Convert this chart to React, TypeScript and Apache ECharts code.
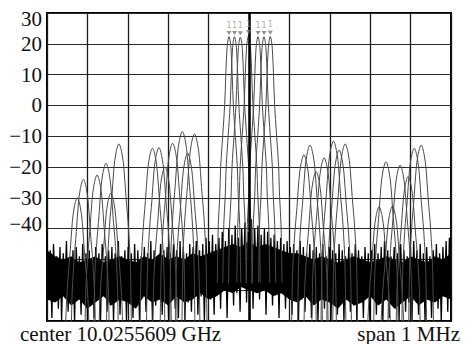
import React, { useEffect, useRef } from "react";
import * as echarts from "echarts";

// Frequency offsets in kHz from the centre (span 1 MHz), levels in dBm
const centerPeaksKHz = [-49.5, -35.9, -21.5, -1.2, 22.3, 37.1, 52.7];
const centerPeaksDb = [22.3, 22.3, 22.2, 22.6, 22.3, 22.3, 22.4];
const markerLabels = ["1", "1", "1", "1", "1", "1", "1"];

const sidePeaksKHz = [
  -425, -410, -376, -354, -342, -322,
  -239, -223, -208, -189, -165, -152, -135,
  136, 151, 166, 186, 209, 223, 238,
  322, 339, 355, 374, 394, 409, 426,
];
const sidePeaksDb = [
  -30, -24, -22.6, -18.8, -28.5, -12.5,
  -13.9, -13.7, -19.9, -12.3, -8.5, -15.5, -9.3,
  -16.1, -12.9, -21.5, -17, -11.6, -14.5, -12.5,
  -32.9, -18.3, -32.7, -19.4, -23.1, -13.9, -12.9,
];

// lobe shapes: [offset kHz, level relative to peak dB]
const centerLobeShape = [
  [-29, -80], [-26.5, -61], [-23, -52], [-20.5, -42], [-15.5, -32], [-10.7, -22], [-5, -4], [0, 0],
  [5, -4], [10.7, -22], [15.5, -32], [20.5, -42], [23, -52], [26.5, -61], [29, -80],
];
const sideLobeShape = [
  [-32, -75], [-28.5, -40], [-23.5, -27], [-17.3, -17], [-12.4, -8], [-7.4, -3], [0, 0],
  [7.4, -3], [12.4, -8], [17.3, -17], [23.5, -27], [28.5, -40], [32, -75],
];

// noise floor trace, sampled evenly across the span
const noiseTrace = [
  -41, -62, -47, -69, -45, -58, -49, -66, -46, -70, -48, -60, -44, -67, -50, -63, -47, -70, -46, -59, -49, -68, -45, -64, -48, -70, -47, -61, -50, -69, -46, -62, -48, -70, -45, -58, -49, -67, -47, -65, -46, -70, -48, -60, -44, -68, -49, -63, -47, -70,
  -46, -61, -48, -69, -45, -64, -47, -70, -49, -59, -46, -67, -48, -62, -44, -70, -47, -65, -49, -60, -45, -68, -47, -63, -46, -70, -48, -58, -45, -66, -47, -69, -44, -61, -46, -70, -48, -64, -45, -67, -46, -59, -44, -68, -47, -62, -45, -70, -43, -60,
  -44, -63, -42, -68, -45, -58, -43, -66, -41, -60, -44, -69, -40, -57, -42, -65, -39, -61, -43, -67, -40, -56, -38, -64, -41, -59, -37, -66, -40, -57, -39, -63, -42, -60, -40, -68, -41, -58, -43, -65, -42, -61, -44, -69, -43, -59, -45, -66, -44, -62,
  -46, -68, -45, -60, -47, -70, -44, -63, -46, -67, -48, -59, -45, -69, -47, -62, -46, -70, -48, -61, -45, -66, -49, -64, -46, -70, -47, -59, -48, -68, -45, -63, -47, -70, -49, -60, -46, -67, -48, -65, -45, -70, -47, -61, -49, -69, -46, -62, -48, -70,
  -47, -60, -45, -68, -48, -63, -46, -70, -44, -61, -47, -69, -49, -58, -46, -66, -48, -70, -45, -62, -47, -67, -49, -64, -46, -70, -44, -59, -47, -68, -45, -63, -48, -70, -46, -61, -49, -69, -47, -60, -45, -66, -48, -70, -46, -62, -44, -67, -43, -64,
];

// dense core of the noise floor (every 20 kHz): upper and lower edge in dB
const noiseCoreTop = [
  -47, -49, -50, -49, -51, -50, -49, -51, -50, -49, -50, -51, -49, -50, -48, -50, -49, -50, -48, -49,
  -48, -47, -46, -45, -46, -44, -46, -45, -46, -47, -48, -48, -49, -50, -49, -50, -51, -50, -49, -50,
  -51, -50, -49, -50, -51, -49, -50, -51, -49, -50, -48,
];
const noiseCoreBottom = [
  -63, -64, -62, -65, -63, -66, -64, -62, -65, -63, -64, -66, -62, -64, -63, -65, -62, -64, -63, -61,
  -63, -62, -60, -61, -59, -60, -61, -60, -62, -61, -63, -64, -62, -65, -63, -64, -66, -63, -65, -64,
  -62, -65, -63, -66, -64, -62, -65, -63, -64, -62, -63,
];

const yTicks = [30, 20, 10, 0, -10, -20, -30, -40];
const centerText = "center 10.0255609 GHz";
const spanText = "span 1 MHz";

const FONT = '"Liberation Serif", "Times New Roman", serif';

export default function App() {
  const ref = useRef<HTMLDivElement>(null);
  useEffect(() => {
    if (!ref.current) return;
    const chart = echarts.init(ref.current, undefined, { renderer: "svg" });

    const noiseData = noiseTrace.map((v, i) => [-500 + (i * 1000) / (noiseTrace.length - 1), v]);
    const coreX = (i: number) => -500 + (i * 1000) / (noiseCoreTop.length - 1);

    const lobeSeries: any[] = [];
    const addLobe = (c: number, p: number, shape: number[][]) => {
      lobeSeries.push({
        type: "line",
        data: shape.map(([dx, dy]) => [c + dx, p + dy]),
        smooth: 0.35,
        symbol: "none",
        clip: true,
        lineStyle: { color: "#4a4a4a", width: 1 },
        z: 3,
        silent: true,
      });
    };
    sidePeaksKHz.forEach((c, i) => addLobe(c, sidePeaksDb[i], sideLobeShape));
    centerPeaksKHz.forEach((c, i) => addLobe(c, centerPeaksDb[i], centerLobeShape));

    const option: any = {
      animation: false,
      backgroundColor: "#fff",
      grid: {
        left: 47, right: 22, top: 13, bottom: 23,
        show: true, borderColor: "#000", borderWidth: 2, backgroundColor: "transparent",
      },
      xAxis: {
        type: "value", min: -500, max: 500, interval: 100,
        axisLabel: { show: false }, axisTick: { show: false }, axisLine: { show: false },
        splitLine: { show: true, lineStyle: { color: "#1a1a1a", width: 1.3 } },
      },
      yAxis: {
        type: "value", min: -70, max: 30, interval: 10,
        axisLine: { show: false }, axisTick: { show: false },
        splitLine: { show: true, lineStyle: { color: "#2a2a2a", width: 1.2 } },
        axisLabel: {
          margin: 5,
          color: "#111",
          fontFamily: FONT,
          fontSize: 21,
          formatter: (v: number) => {
            if (!yTicks.includes(v)) return "";
            const s = String(v).replace("-", "\u2212");
            if (v === 30) return "{t|" + s + "}";
            if (v === -40) return "{b|" + s + "}";
            return s;
          },
          rich: {
            t: { fontFamily: FONT, fontSize: 21, color: "#111", padding: [12, 0, 0, 0] },
            b: { fontFamily: FONT, fontSize: 21, color: "#111", padding: [0, 0, 10, 0] },
          },
        },
      },
      graphic: [
        {
          type: "text", left: 20, top: 323,
          style: { text: centerText, font: '21px "Liberation Serif"', fill: "#111" },
        },
        {
          type: "text", right: 13, top: 323,
          style: { text: spanText, font: '21px "Liberation Serif"', fill: "#111" },
        },
      ],
      series: [
        {
          type: "custom",
          data: [[0, 0]],
          silent: true,
          z: 1,
          clip: true,
          renderItem: (_params: any, api: any) => {
            const pts: number[][] = [];
            noiseCoreTop.forEach((v, i) => pts.push(api.coord([coreX(i), v])));
            for (let i = noiseCoreBottom.length - 1; i >= 0; i--) {
              pts.push(api.coord([coreX(i), noiseCoreBottom[i]]));
            }
            return { type: "polygon", shape: { points: pts }, style: { fill: "#000" } };
          },
        },
        {
          type: "line",
          data: noiseData,
          symbol: "none",
          lineStyle: { color: "#000", width: 1.3 },
          z: 2,
          silent: true,
          markLine: {
            silent: true,
            symbol: "none",
            label: { show: false },
            lineStyle: { color: "#000", width: 2.5, type: "solid" },
            data: [{ xAxis: 0 }],
          },
        },
        ...lobeSeries,
        {
          type: "scatter",
          data: centerPeaksKHz.map((c, i) => [c, centerPeaksDb[i] + 1.2]),
          symbol: "triangle",
          symbolRotate: 180,
          symbolSize: [5, 4],
          itemStyle: { color: "#777" },
          z: 5,
          label: {
            show: true,
            position: "top",
            distance: 2,
            formatter: (p: any) => markerLabels[p.dataIndex],
            fontSize: 8,
            color: "#999",
            fontFamily: "DejaVu Sans",
          },
        },
      ],
    };
    chart.setOption(option);
    return () => chart.dispose();
  }, []);

  return (
    <div
      ref={ref}
      style={{ position: "fixed", left: 0, top: 0, width: 473, height: 344, background: "#fff" }}
    />
  );
}
